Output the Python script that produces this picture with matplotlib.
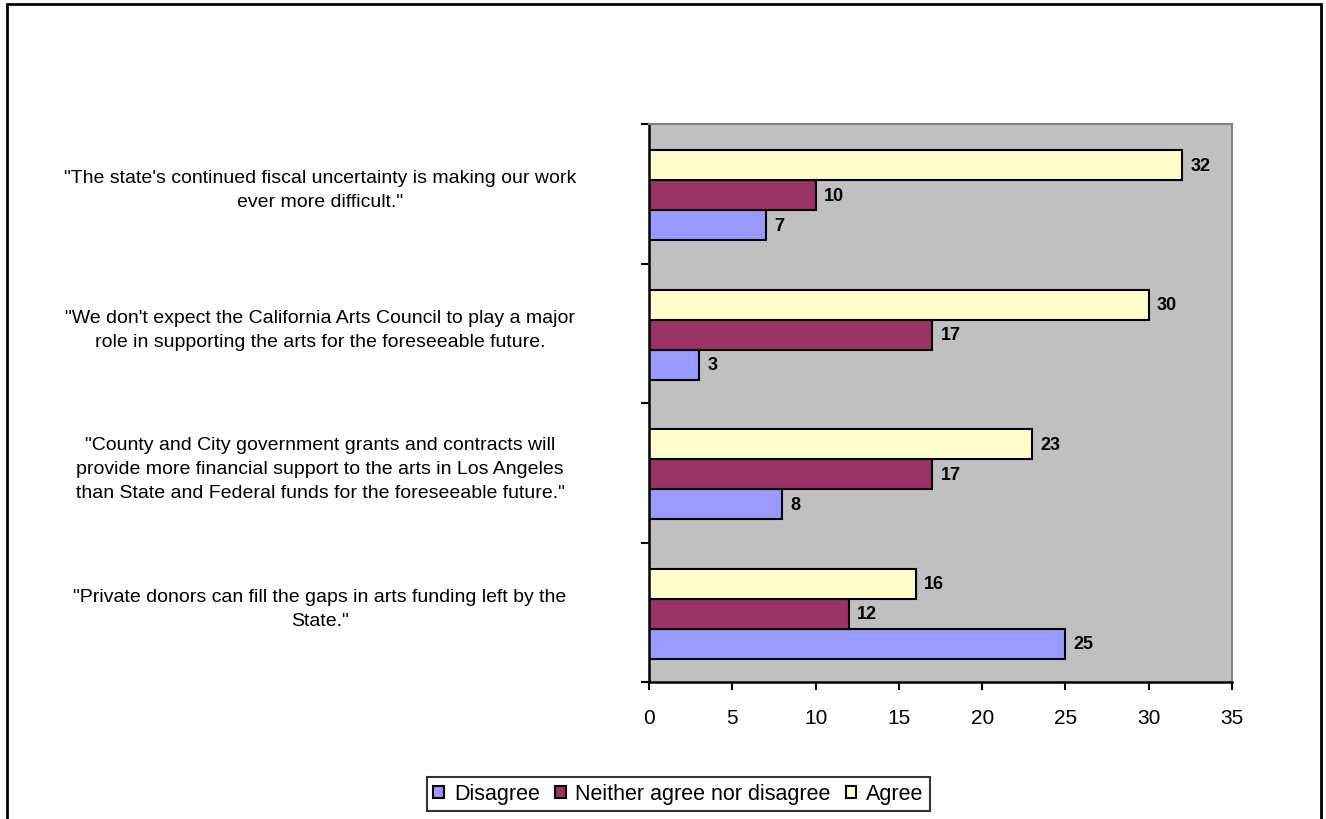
import matplotlib.pyplot as plt
from matplotlib.patches import Rectangle

plt.rcParams['font.family'] = ['Liberation Sans', 'DejaVu Sans']

statements = [
    '"The state\'s continued fiscal uncertainty is making our work\never more difficult."',
    '"We don\'t expect the California Arts Council to play a major\nrole in supporting the arts for the foreseeable future.',
    '"County and City government grants and contracts will\nprovide more financial support to the arts in Los Angeles\nthan State and Federal funds for the foreseeable future."',
    '"Private donors can fill the gaps in arts funding left by the\nState."',
]
disagree = [7, 3, 8, 25]
neither = [10, 17, 17, 12]
agree = [32, 30, 23, 16]

series = [("Disagree", disagree, "#9999FF", -1),
          ("Neither agree nor disagree", neither, "#993366", 0),
          ("Agree", agree, "#FFFFCC", 1)]

W, H = 1326, 820
fig = plt.figure(figsize=(W / 100, H / 100), dpi=100)
ax = fig.add_axes([649 / W, 1 - 683 / H, (1232 - 649) / W, (683 - 125) / H])
ax.set_facecolor("#C0C0C0")

h = 0.215
n = len(statements)
centers = [n - 1 - i for i in range(n)]
for name, vals, col, off in series:
    ys = [c + off * h - 0.01 for c in centers]
    ax.barh(ys, vals, height=h, color=col, edgecolor="black", linewidth=1.5, label=name)
    for y, v in zip(ys, vals):
        ax.annotate(str(v), (v, y), xytext=(6, 0), textcoords="offset points",
                    va="center", ha="left", fontsize=13, fontweight="bold")

ax.set_xlim(0, 35)
ax.set_ylim(-0.5, n - 0.5)
ax.set_xticks(range(0, 36, 5))
ax.tick_params(axis="x", direction="out", length=6, width=1.5, labelsize=15, pad=13)
ax.set_yticks([k - 0.5 for k in range(n + 1)])
ax.set_yticklabels([])
ax.tick_params(axis="y", direction="out", length=6, width=1.5)

for s in ["left", "bottom"]:
    ax.spines[s].set_linewidth(1.8)
    ax.spines[s].set_color("black")
for s in ["top", "right"]:
    ax.spines[s].set_linewidth(1.5)
    ax.spines[s].set_color("#808080")

# category labels, centred in the space left of the plot
fig.canvas.draw()
for c, txt in zip(centers, statements):
    yfig = ax.transData.transform((0, c))[1] / H
    fig.text(320 / W, yfig + 0.005, txt, ha="center", va="center",
             multialignment="center", fontsize=14, linespacing=1.55)

leg = fig.legend(loc="center", bbox_to_anchor=(678.5 / W, 1 - 795 / H), ncol=3,
                 fontsize=15.5, frameon=True, fancybox=False, edgecolor="black",
                 handlelength=0.5, handleheight=0.5, handletextpad=0.45, columnspacing=0.7,
                 borderpad=0.3, borderaxespad=0)
leg.get_frame().set_linewidth(1.5)

# outer chart border (open at the bottom edge)
fig.patches.append(Rectangle((6.5 / W, -0.05), (1320.5 - 6.5) / W, 1.05 - 5 / H,
                             transform=fig.transFigure, fill=False, edgecolor="black", linewidth=2))

fig.savefig("out.png", dpi=100)
